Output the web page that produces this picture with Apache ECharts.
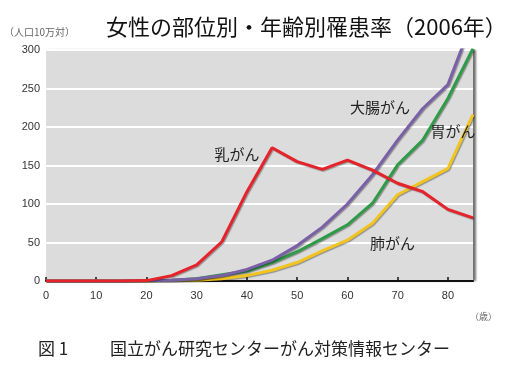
<!DOCTYPE html>
<html>
<head>
<meta charset="utf-8">
<script src="https://cdn.jsdelivr.net/npm/echarts@6/dist/echarts.min.js"></script>
<style>
html,body{margin:0;padding:0;background:#fff;}
#c{width:510px;height:367px;}
</style>
</head>
<body>
<div id="c"></div>
<script>
// ---- data ----
var ages = [0,5,10,15,20,25,30,35,40,45,50,55,60,65,70,75,80,85];
var breast     = [0,0,0,0,0.5,7,21,51,116,173,155,145,157,144,127,116,93,82];
var colorectal = [0,0,0,0,0.5,1,3,7,15,27,46,70,100,138,183,224,255,340];
var stomach    = [0,0,0,0,0.5,1,3,8,13,24,38,55,73,101,151,183,237,302];
var lung       = [0,0,0,0,0,0.5,1,3,7,14,24,39,53,75,112,129,146,216];
var xTicks = [0,10,20,30,40,50,60,70,80];
var titleText = '女性の部位別・年齢別罹患率（2006年）';
var unitText = '（人口10万対）';
var xUnitText = '（歳）';
var captionFig = '図 1';
var captionText = '国立がん研究センターがん対策情報センター';
var seriesNames = ['肺がん','胃がん','大腸がん','乳がん'];
var labelPos = {
  '乳がん': [38, 164],
  '大腸がん': [66.5, 225],
  '胃がん': [81, 195],
  '肺がん': [69, 49]
};

function pairs(v){ return ages.map(function(a,i){ return [a, v[i]]; }); }

var FONT = '"Liberation Sans", "Noto Sans CJK JP", sans-serif';
var JP = '"Noto Sans CJK JP", sans-serif';

function mkSeries(name, values, color){
  return {
    name: name, type: 'line', data: pairs(values), symbol: 'none', smooth: false,
    clip: true,
    lineStyle: {color: color, width: 3, shadowColor: 'rgba(0,0,0,0.35)', shadowBlur: 1, shadowOffsetX: 1, shadowOffsetY: 1},
    markPoint: {
      symbol: 'circle', symbolSize: 1, silent: true,
      itemStyle: {color: 'rgba(0,0,0,0)'},
      label: {show: true, position: 'inside', formatter: name, color: '#222', fontSize: 15, fontFamily: JP},
      data: [{coord: labelPos[name]}]
    }
  };
}

var chart = echarts.init(document.getElementById('c'), null, {renderer: 'canvas'});
chart.setOption({
  animation: false,
  backgroundColor: '#fff',
  textStyle: {fontFamily: FONT},
  title: {
    text: titleText, left: 101, top: 11,
    textStyle: {fontSize: 22, fontWeight: 'normal', color: '#111', fontFamily: JP}
  },
  grid: {
    left: 46, right: 37, top: 50, bottom: 86,
    show: true, backgroundColor: '#dcdcdc', borderWidth: 0,
    shadowColor: 'rgba(0,0,0,0.55)', shadowBlur: 2, shadowOffsetX: 3, shadowOffsetY: 0
  },
  xAxis: {
    type: 'value', min: 0, max: 85, interval: 10,
    axisLine: {show: true, lineStyle: {color: '#111', width: 2}},
    axisTick: {show: true, inside: true, length: 4, customValues: xTicks, lineStyle: {color: '#111', width: 1.5}},
    axisLabel: {customValues: xTicks, color: '#333', fontSize: 11, margin: 9, fontFamily: FONT},
    splitLine: {show: false}
  },
  yAxis: {
    type: 'value', min: 0, max: 300, interval: 50,
    axisLine: {show: false}, axisTick: {show: false},
    axisLabel: {color: '#333', fontSize: 11, margin: 6, fontFamily: FONT},
    splitLine: {show: true, lineStyle: {color: '#ffffff', width: 2}}
  },
  graphic: [
    {type: 'text', left: 4, top: 27, style: {text: unitText, fontSize: 10, fill: '#666', fontFamily: JP}},
    {type: 'text', left: 470, top: 312, style: {text: xUnitText, fontSize: 9, fill: '#666', fontFamily: JP}},
    {type: 'text', left: 38, top: 340, style: {text: captionFig, fontSize: 17, fill: '#222', fontFamily: JP}},
    {type: 'text', left: 110, top: 340, style: {text: captionText, fontSize: 17, fill: '#222', fontFamily: JP}}
  ],
  series: [
    mkSeries(seriesNames[0], lung, '#f1c41f'),
    mkSeries(seriesNames[1], stomach, '#2f9b48'),
    mkSeries(seriesNames[2], colorectal, '#7a60a6'),
    mkSeries(seriesNames[3], breast, '#e6232b')
  ]
});
</script>
</body>
</html>
